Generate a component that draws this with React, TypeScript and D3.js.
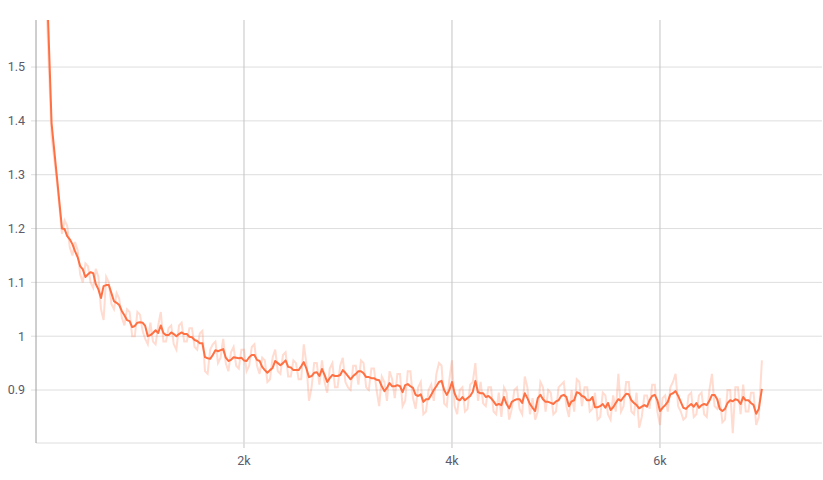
import * as d3 from 'd3';

// training steps: every 50 at the start, every 25 afterwards, last point at 6980
const STEPS: number[] = d3.range(0, 250, 50).concat(d3.range(250, 6975, 25), [6980]);

// smoothed loss (dark line)
const SMOOTHED: number[] = [
    2.40, 1.95, 1.68, 1.395, 1.298,
    1.200, 1.199, 1.186, 1.180, 1.171, 1.158, 1.147, 1.130, 1.124, 1.110,
    1.115, 1.119, 1.117, 1.097, 1.087, 1.071, 1.093, 1.095, 1.095, 1.080,
    1.065, 1.062, 1.058, 1.047, 1.039, 1.030, 1.028, 1.017, 1.019, 1.025,
    1.026, 1.025, 1.019, 1.000, 1.002, 1.006, 1.011, 1.006, 1.020, 1.006,
    1.002, 1.002, 1.007, 1.004, 1.000, 1.004, 1.007, 1.004, 1.004, 0.999,
    0.998, 0.993, 0.991, 0.987, 0.987, 0.961, 0.959, 0.958, 0.965, 0.974,
    0.972, 0.974, 0.976, 0.960, 0.954, 0.956, 0.961, 0.960, 0.959, 0.960,
    0.955, 0.954, 0.961, 0.965, 0.965, 0.956, 0.954, 0.943, 0.937, 0.932,
    0.937, 0.941, 0.954, 0.950, 0.946, 0.950, 0.955, 0.943, 0.942, 0.937,
    0.937, 0.937, 0.944, 0.952, 0.940, 0.924, 0.926, 0.932, 0.933, 0.926,
    0.939, 0.928, 0.915, 0.922, 0.928, 0.926, 0.926, 0.928, 0.937, 0.932,
    0.926, 0.920, 0.926, 0.930, 0.935, 0.935, 0.931, 0.924, 0.924, 0.922,
    0.922, 0.919, 0.918, 0.907, 0.898, 0.904, 0.913, 0.907, 0.907, 0.909,
    0.907, 0.896, 0.909, 0.911, 0.907, 0.904, 0.891, 0.889, 0.892, 0.878,
    0.883, 0.883, 0.891, 0.900, 0.907, 0.915, 0.917, 0.900, 0.891, 0.900,
    0.915, 0.894, 0.883, 0.881, 0.887, 0.881, 0.885, 0.889, 0.897, 0.917,
    0.896, 0.894, 0.894, 0.887, 0.889, 0.885, 0.879, 0.872, 0.874, 0.872,
    0.887, 0.874, 0.866, 0.878, 0.881, 0.883, 0.883, 0.876, 0.894, 0.885,
    0.874, 0.867, 0.861, 0.885, 0.891, 0.883, 0.878, 0.878, 0.876, 0.874,
    0.879, 0.881, 0.889, 0.891, 0.887, 0.870, 0.879, 0.881, 0.896, 0.894,
    0.889, 0.887, 0.881, 0.881, 0.887, 0.868, 0.868, 0.870, 0.874, 0.867,
    0.876, 0.863, 0.868, 0.876, 0.883, 0.880, 0.887, 0.893, 0.892, 0.881,
    0.876, 0.872, 0.866, 0.869, 0.872, 0.869, 0.881, 0.889, 0.891, 0.881,
    0.861, 0.867, 0.872, 0.878, 0.892, 0.894, 0.898, 0.889, 0.878, 0.867,
    0.865, 0.870, 0.874, 0.869, 0.876, 0.867, 0.872, 0.874, 0.872, 0.880,
    0.891, 0.891, 0.883, 0.865, 0.861, 0.865, 0.876, 0.881, 0.879, 0.883,
    0.881, 0.874, 0.887, 0.881, 0.881, 0.876, 0.872, 0.856, 0.865,
    0.902,
];

// raw loss (faint line)
const RAW: number[] = [
    2.45, 1.90, 1.62, 1.37, 1.29,
    1.190, 1.215, 1.205, 1.165, 1.150, 1.175, 1.160, 1.115, 1.100, 1.135,
    1.130, 1.100, 1.090, 1.125, 1.110, 1.050, 1.030, 1.110, 1.100, 1.060,
    1.050, 1.080, 1.070, 1.035, 1.020, 1.050, 1.045, 1.000, 1.000, 1.045,
    1.040, 1.010, 0.995, 0.985, 1.025, 0.990, 0.985, 1.020, 1.045, 0.990,
    0.990, 1.015, 1.020, 0.985, 0.975, 1.020, 1.025, 0.990, 0.990, 1.015,
    1.015, 0.980, 0.975, 1.005, 1.010, 0.935, 0.930, 0.975, 0.985, 0.990,
    0.950, 0.960, 0.995, 0.950, 0.935, 0.970, 0.980, 0.945, 0.940, 0.975,
    0.975, 0.935, 0.945, 0.980, 0.985, 0.945, 0.930, 0.960, 0.955, 0.915,
    0.920, 0.960, 0.975, 0.935, 0.930, 0.965, 0.970, 0.925, 0.925, 0.955,
    0.950, 0.920, 0.920, 0.985, 0.950, 0.880, 0.905, 0.950, 0.950, 0.910,
    0.955, 0.915, 0.895, 0.940, 0.950, 0.905, 0.905, 0.945, 0.960, 0.915,
    0.905, 0.900, 0.945, 0.945, 0.910, 0.955, 0.950, 0.905, 0.900, 0.940,
    0.940, 0.900, 0.870, 0.925, 0.915, 0.880, 0.935, 0.920, 0.885, 0.930,
    0.930, 0.870, 0.880, 0.935, 0.935, 0.885, 0.865, 0.905, 0.915, 0.855,
    0.860, 0.900, 0.910, 0.880, 0.930, 0.950, 0.945, 0.875, 0.870, 0.920,
    0.955, 0.870, 0.855, 0.900, 0.905, 0.860, 0.865, 0.910, 0.915, 0.950,
    0.880, 0.915, 0.875, 0.870, 0.905, 0.905, 0.860, 0.855, 0.895, 0.850,
    0.905, 0.895, 0.845, 0.865, 0.900, 0.905, 0.865, 0.855, 0.925, 0.905,
    0.855, 0.885, 0.845, 0.860, 0.915, 0.905, 0.860, 0.900, 0.895, 0.855,
    0.860, 0.905, 0.910, 0.915, 0.870, 0.850, 0.900, 0.860, 0.920, 0.915,
    0.870, 0.905, 0.905, 0.860, 0.865, 0.895, 0.845, 0.850, 0.895, 0.890,
    0.855, 0.845, 0.890, 0.860, 0.930, 0.860, 0.870, 0.915, 0.915, 0.860,
    0.855, 0.895, 0.830, 0.850, 0.890, 0.890, 0.865, 0.910, 0.910, 0.860,
    0.835, 0.885, 0.890, 0.860, 0.905, 0.915, 0.930, 0.870, 0.860, 0.845,
    0.850, 0.890, 0.895, 0.850, 0.855, 0.890, 0.895, 0.855, 0.850, 0.900,
    0.930, 0.870, 0.865, 0.885, 0.840, 0.845, 0.900, 0.900, 0.820, 0.905,
    0.905, 0.855, 0.910, 0.860, 0.860, 0.895, 0.895, 0.835, 0.850,
    0.955,
];

const Y_TICKS: number[] = [0.9, 1.0, 1.1, 1.2, 1.3, 1.4, 1.5];
const X_TICKS: number[] = [2000, 4000, 6000];

const COLORS = {
    line: '#ff7043',
    grid: '#dedede',
    vgrid: '#c4c4c4',
    axis: '#9e9e9e',
    text: '#5b5b6b',
};

const W = 823;
const H = 480;
const margin = { top: 20, right: 1, bottom: 37, left: 36 };

export default function App() {
    const x = d3.scaleLinear().domain([0, 7558]).range([margin.left, W - margin.right]);
    const y = d3.scaleLinear().domain([0.8016, 1.5874]).range([H - margin.bottom, margin.top]);

    const n = Math.min(STEPS.length, SMOOTHED.length, RAW.length);
    const smooth = STEPS.slice(0, n).map((s, i) => ({ step: s, v: SMOOTHED[i] }));
    const raw = STEPS.slice(0, n).map((s, i) => ({ step: s, v: RAW[i] }));

    const line = d3.line<{ step: number; v: number }>()
        .x(d => x(d.step))
        .y(d => y(d.v));

    const x0 = margin.left;
    const x1 = W - margin.right;
    const y0 = H - margin.bottom;
    const y1 = margin.top;

    return (
        <svg width={W} height={H}
            style={{ position: 'absolute', left: 0, top: 0, background: '#fff', fontFamily: 'Roboto, "Open Sans", sans-serif' }}>
            <defs>
                <clipPath id="plot">
                    <rect x={x0} y={y1} width={x1 - x0} height={y0 - y1} />
                </clipPath>
            </defs>

            {/* horizontal grid + y labels */}
            {Y_TICKS.map(t => (
                <g key={t}>
                    <line x1={x0 - 5} x2={x1} y1={y(t)} y2={y(t)} stroke={COLORS.grid} strokeWidth={1} />
                    <text x={25} y={y(t)} dy="0.35em" textAnchor="end" fontSize={12.5} fill={COLORS.text}>
                        {d3.format('~g')(t)}
                    </text>
                </g>
            ))}

            {/* vertical grid + x labels */}
            {X_TICKS.map(t => (
                <g key={t}>
                    <line x1={x(t)} x2={x(t)} y1={y1} y2={y0 + 5} stroke={COLORS.vgrid} strokeWidth={1} />
                    <text x={x(t)} y={465} textAnchor="middle" fontSize={12.5} fill={COLORS.text}>
                        {`${t / 1000}k`}
                    </text>
                </g>
            ))}

            {/* axes */}
            <line x1={x0} x2={x1} y1={y0} y2={y0} stroke={COLORS.grid} strokeWidth={1} />
            <line x1={x0} x2={x0} y1={y1} y2={y0} stroke={COLORS.axis} strokeWidth={1} />

            <g clipPath="url(#plot)">
                <path d={line(raw) || ''} fill="none" stroke={COLORS.line} strokeOpacity={0.25} strokeWidth={2} />
                <path d={line(smooth) || ''} fill="none" stroke={COLORS.line} strokeWidth={2} strokeLinejoin="round" />
            </g>
        </svg>
    );
}
